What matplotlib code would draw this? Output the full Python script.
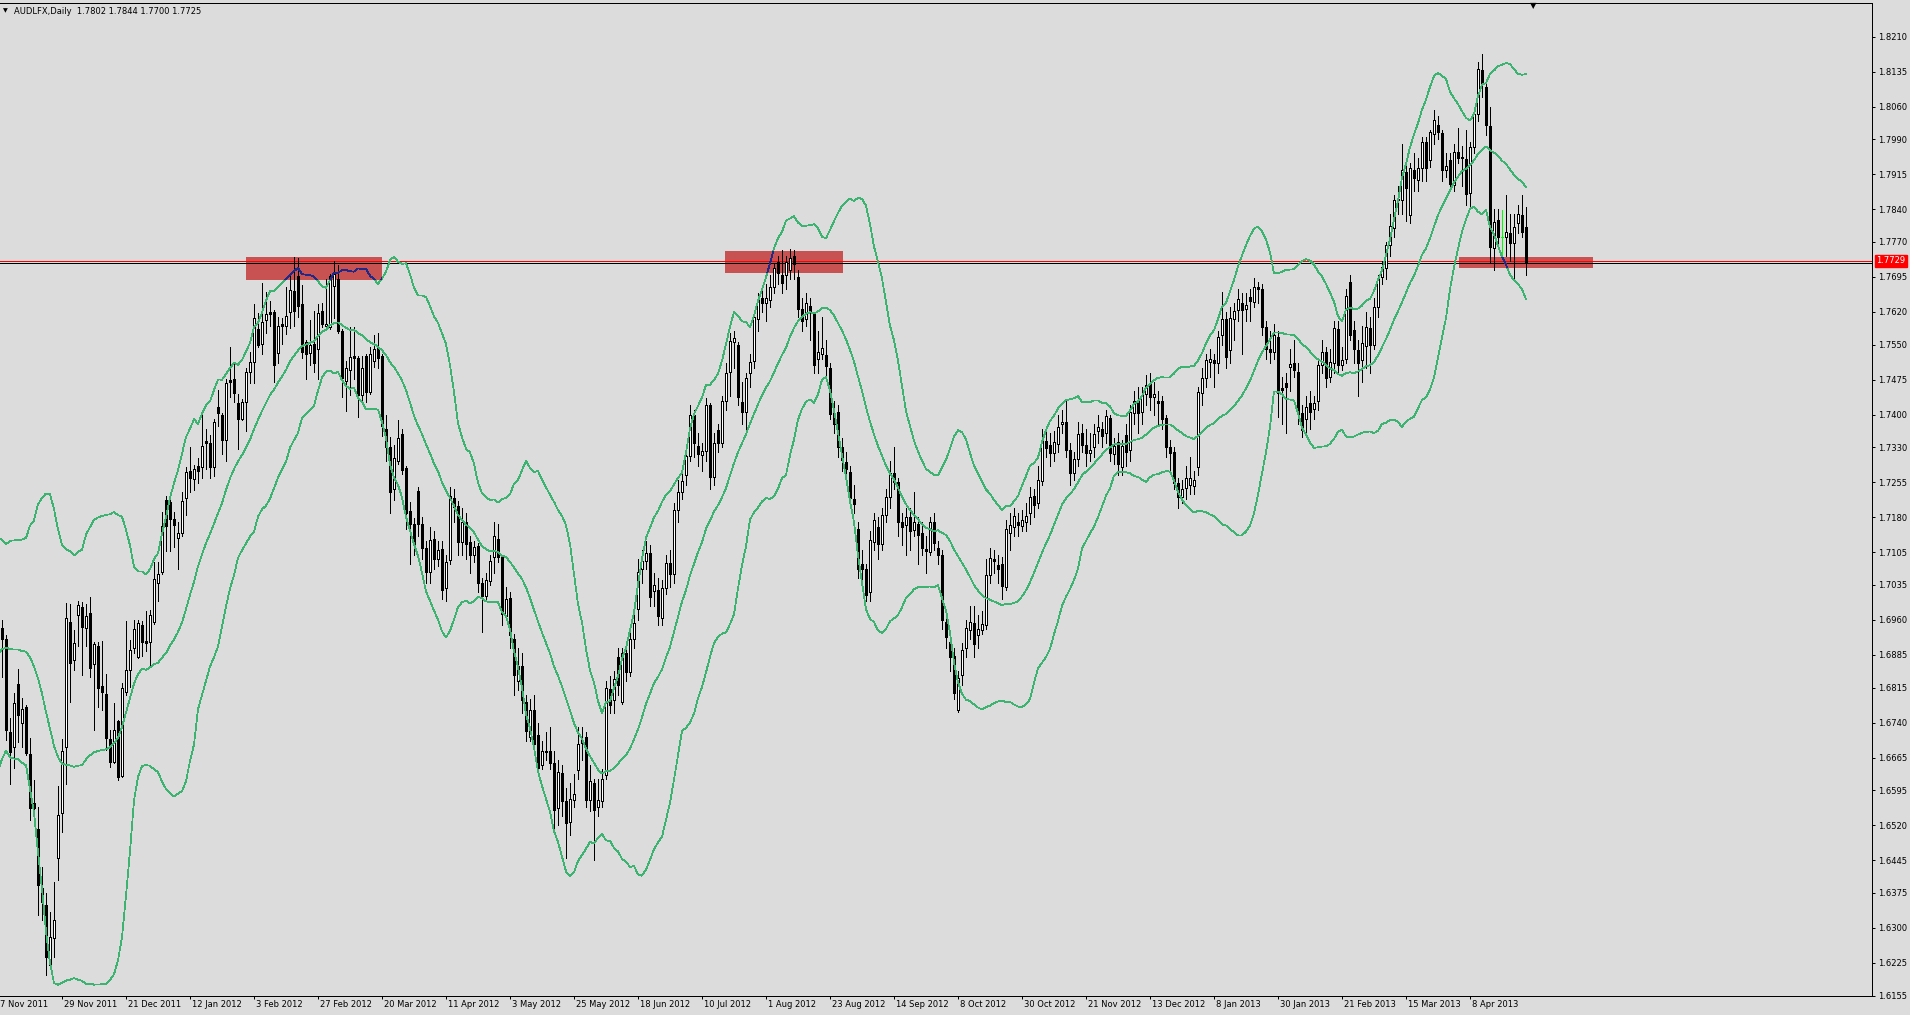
import matplotlib
matplotlib.use("Agg")
import matplotlib.pyplot as plt
import matplotlib.patches as patches
import matplotlib.transforms as mtransforms
import numpy as np
import pandas as pd

# ---- data (daily bars from 7 Nov 2011 to 26 Apr 2013) ----
header = "AUDLFX,Daily  1.7802 1.7844 1.7700 1.7725"

# closes of the 19 days before the first visible bar (only feed the bands)
prior_closes = [1.6700, 1.6650, 1.6740, 1.6800, 1.6760, 1.6830, 1.6700, 1.6800, 1.6950, 1.6900,
                1.7000, 1.7050, 1.6980, 1.7060, 1.7020, 1.6960, 1.7010, 1.6900, 1.6960]

opens = [
    1.6900, 1.6942, 1.6920, 1.6720, 1.6688, 1.6822, 1.6738, 1.6773, 1.6673, 1.6567,
    1.6513, 1.6385, 1.6349, 1.6221, 1.6278, 1.6449, 1.6546, 1.6688, 1.6956, 1.6874,
    1.6970, 1.6988, 1.6942, 1.6975, 1.6865, 1.6903, 1.6818, 1.6801, 1.6705, 1.6656,
    1.6744, 1.6626, 1.6806, 1.6853, 1.6899, 1.6881, 1.6948, 1.6915, 1.6913, 1.6955,
    1.7039, 1.7062, 1.7217, 1.7212, 1.7176, 1.7135, 1.7147, 1.7222, 1.7280, 1.7261,
    1.7290, 1.7288, 1.7344, 1.7338, 1.7288, 1.7416, 1.7399, 1.7345, 1.7474, 1.7476,
    1.7424, 1.7391, 1.7426, 1.7492, 1.7512, 1.7584, 1.7552, 1.7602, 1.7619, 1.7619,
    1.7531, 1.7593, 1.7590, 1.7619, 1.7665, 1.7697, 1.7636, 1.7556, 1.7531, 1.7552,
    1.7541, 1.7621, 1.7590, 1.7587, 1.7675, 1.7690, 1.7579, 1.7472, 1.7495, 1.7525,
    1.7522, 1.7441, 1.7525, 1.7449, 1.7514, 1.7544, 1.7525, 1.7368, 1.7330, 1.7241,
    1.7301, 1.7358, 1.7285, 1.7194, 1.7166, 1.7237, 1.7166, 1.7114, 1.7063, 1.7134,
    1.7090, 1.7112, 1.7029, 1.7088, 1.7221, 1.7203, 1.7126, 1.7170, 1.7126, 1.7100,
    1.7118, 1.7039, 1.7011, 1.7043, 1.7094, 1.7134, 1.7094, 1.6968, 1.7007, 1.6920,
    1.6829, 1.6862, 1.6785, 1.6710, 1.6767, 1.6714, 1.6648, 1.6677, 1.6678, 1.6654,
    1.6556, 1.6632, 1.6571, 1.6528, 1.6575, 1.6639, 1.6696, 1.6710, 1.6574, 1.6611,
    1.6559, 1.6571, 1.6627, 1.6811, 1.6789, 1.6880, 1.6785, 1.6888, 1.6849, 1.6920,
    1.6983, 1.7068, 1.7086, 1.7104, 1.7021, 1.7025, 1.6965, 1.7028, 1.7082, 1.7059,
    1.7195, 1.7235, 1.7271, 1.7312, 1.7400, 1.7332, 1.7314, 1.7321, 1.7420, 1.7267,
    1.7366, 1.7339, 1.7429, 1.7492, 1.7555, 1.7548, 1.7427, 1.7406, 1.7488, 1.7515,
    1.7605, 1.7650, 1.7638, 1.7645, 1.7674, 1.7727, 1.7700, 1.7700, 1.7710, 1.7740,
    1.7695, 1.7627, 1.7605, 1.7632, 1.7617, 1.7519, 1.7530, 1.7527, 1.7499, 1.7404,
    1.7406, 1.7330, 1.7298, 1.7276, 1.7220, 1.7154, 1.7079, 1.7070, 1.7019, 1.7127,
    1.7160, 1.7123, 1.7185, 1.7224, 1.7275, 1.7256, 1.7170, 1.7163, 1.7181, 1.7153,
    1.7165, 1.7147, 1.7111, 1.7106, 1.7170, 1.7113, 1.7099, 1.6956, 1.6913, 1.6883,
    1.6767, 1.6842, 1.6899, 1.6938, 1.6953, 1.6928, 1.6938, 1.6949, 1.7056, 1.7090,
    1.7078, 1.7080, 1.7031, 1.7147, 1.7160, 1.7170, 1.7161, 1.7170, 1.7188, 1.7226,
    1.7211, 1.7258, 1.7344, 1.7335, 1.7317, 1.7337, 1.7380, 1.7385, 1.7324, 1.7274,
    1.7304, 1.7361, 1.7335, 1.7317, 1.7330, 1.7365, 1.7370, 1.7360, 1.7392, 1.7316,
    1.7342, 1.7287, 1.7356, 1.7325, 1.7404, 1.7428, 1.7406, 1.7444, 1.7468, 1.7437,
    1.7428, 1.7428, 1.7392, 1.7330, 1.7320, 1.7253, 1.7224, 1.7242, 1.7249, 1.7247,
    1.7288, 1.7446, 1.7478, 1.7513, 1.7517, 1.7511, 1.7570, 1.7604, 1.7538, 1.7604,
    1.7623, 1.7638, 1.7627, 1.7651, 1.7642, 1.7673, 1.7668, 1.7587, 1.7540, 1.7533,
    1.7567, 1.7456, 1.7467, 1.7502, 1.7511, 1.7492, 1.7403, 1.7390, 1.7425, 1.7412,
    1.7428, 1.7506, 1.7533, 1.7480, 1.7510, 1.7583, 1.7506, 1.7520, 1.7683, 1.7581,
    1.7538, 1.7517, 1.7547, 1.7585, 1.7549, 1.7631, 1.7694, 1.7713, 1.7763, 1.7799,
    1.7860, 1.7860, 1.7920, 1.7828, 1.7924, 1.7902, 1.7928, 1.7985, 1.7945, 1.8001,
    1.8020, 1.8003, 1.7925, 1.7945, 1.7892, 1.7963, 1.7952, 1.7947, 1.7874, 1.7974,
    1.8045, 1.8138, 1.8101, 1.8018, 1.7756, 1.7817, 1.7781, 1.7781, 1.7790, 1.7768,
    1.7810, 1.7828, 1.7802,
]

highs = [
    1.6985, 1.6960, 1.6928, 1.6749, 1.6803, 1.6854, 1.6792, 1.6778, 1.6706, 1.6617,
    1.6560, 1.6431, 1.6374, 1.6335, 1.6399, 1.6603, 1.6704, 1.6997, 1.6995, 1.6938,
    1.7001, 1.6999, 1.6995, 1.7010, 1.6913, 1.6913, 1.6915, 1.6843, 1.6724, 1.6781,
    1.6745, 1.6824, 1.6958, 1.6917, 1.6960, 1.6960, 1.6958, 1.6978, 1.6982, 1.7085,
    1.7085, 1.7192, 1.7225, 1.7225, 1.7192, 1.7169, 1.7235, 1.7288, 1.7330, 1.7292,
    1.7307, 1.7403, 1.7368, 1.7357, 1.7391, 1.7453, 1.7403, 1.7476, 1.7544, 1.7510,
    1.7445, 1.7433, 1.7499, 1.7533, 1.7636, 1.7617, 1.7682, 1.7663, 1.7644, 1.7625,
    1.7609, 1.7606, 1.7674, 1.7701, 1.7737, 1.7736, 1.7678, 1.7560, 1.7602, 1.7621,
    1.7636, 1.7640, 1.7690, 1.7701, 1.7730, 1.7720, 1.7583, 1.7514, 1.7587, 1.7587,
    1.7525, 1.7525, 1.7529, 1.7544, 1.7571, 1.7575, 1.7529, 1.7400, 1.7352, 1.7334,
    1.7388, 1.7368, 1.7289, 1.7213, 1.7178, 1.7245, 1.7180, 1.7130, 1.7160, 1.7150,
    1.7130, 1.7130, 1.7100, 1.7245, 1.7240, 1.7215, 1.7200, 1.7190, 1.7140, 1.7130,
    1.7125, 1.7050, 1.7060, 1.7100, 1.7170, 1.7165, 1.7100, 1.7030, 1.7020, 1.6930,
    1.6900, 1.6890, 1.6800, 1.6790, 1.6800, 1.6740, 1.6700, 1.6720, 1.6730, 1.6680,
    1.6660, 1.6650, 1.6600, 1.6610, 1.6630, 1.6730, 1.6730, 1.6720, 1.6650, 1.6620,
    1.6620, 1.6640, 1.6830, 1.6840, 1.6850, 1.6900, 1.6900, 1.6910, 1.6935, 1.6975,
    1.7090, 1.7110, 1.7130, 1.7120, 1.7060, 1.7050, 1.7045, 1.7100, 1.7110, 1.7210,
    1.7260, 1.7290, 1.7330, 1.7420, 1.7410, 1.7360, 1.7340, 1.7435, 1.7425, 1.7360,
    1.7380, 1.7440, 1.7510, 1.7575, 1.7578, 1.7555, 1.7470, 1.7490, 1.7530, 1.7625,
    1.7660, 1.7665, 1.7680, 1.7700, 1.7725, 1.7740, 1.7752, 1.7740, 1.7755, 1.7752,
    1.7710, 1.7650, 1.7660, 1.7650, 1.7620, 1.7580, 1.7610, 1.7560, 1.7510, 1.7430,
    1.7420, 1.7350, 1.7320, 1.7290, 1.7250, 1.7170, 1.7110, 1.7080, 1.7150, 1.7190,
    1.7180, 1.7200, 1.7240, 1.7300, 1.7331, 1.7265, 1.7190, 1.7200, 1.7200, 1.7235,
    1.7180, 1.7170, 1.7140, 1.7180, 1.7190, 1.7130, 1.7110, 1.6975, 1.6930, 1.6900,
    1.6850, 1.6910, 1.6960, 1.6990, 1.6990, 1.6970, 1.6980, 1.7090, 1.7113, 1.7110,
    1.7100, 1.7095, 1.7175, 1.7190, 1.7200, 1.7190, 1.7195, 1.7210, 1.7245, 1.7240,
    1.7290, 1.7370, 1.7370, 1.7360, 1.7365, 1.7400, 1.7410, 1.7430, 1.7340, 1.7320,
    1.7385, 1.7380, 1.7370, 1.7360, 1.7380, 1.7400, 1.7385, 1.7410, 1.7400, 1.7350,
    1.7360, 1.7345, 1.7380, 1.7420, 1.7450, 1.7460, 1.7460, 1.7485, 1.7490, 1.7470,
    1.7450, 1.7440, 1.7400, 1.7345, 1.7330, 1.7265, 1.7260, 1.7290, 1.7310, 1.7280,
    1.7460, 1.7500, 1.7530, 1.7540, 1.7530, 1.7580, 1.7663, 1.7620, 1.7630, 1.7640,
    1.7670, 1.7660, 1.7660, 1.7670, 1.7692, 1.7685, 1.7680, 1.7600, 1.7580, 1.7595,
    1.7580, 1.7480, 1.7490, 1.7540, 1.7560, 1.7510, 1.7420, 1.7440, 1.7450, 1.7440,
    1.7520, 1.7560, 1.7545, 1.7540, 1.7600, 1.7600, 1.7545, 1.7670, 1.7700, 1.7600,
    1.7560, 1.7590, 1.7620, 1.7610, 1.7650, 1.7700, 1.7730, 1.7770, 1.7830, 1.7870,
    1.7890, 1.7980, 1.7935, 1.7940, 1.7960, 1.7950, 1.7995, 1.7995, 1.8010, 1.8053,
    1.8040, 1.8010, 1.7960, 1.7960, 1.7980, 1.8015, 1.7975, 1.8010, 1.7985, 1.8060,
    1.8155, 1.8173, 1.8115, 1.8060, 1.7840, 1.7840, 1.7838, 1.7870, 1.7830, 1.7830,
    1.7850, 1.7870, 1.7844,
]

lows = [
    1.6880, 1.6838, 1.6703, 1.6608, 1.6642, 1.6699, 1.6688, 1.6670, 1.6531, 1.6520,
    1.6328, 1.6317, 1.6199, 1.6213, 1.6238, 1.6403, 1.6505, 1.6608, 1.6785, 1.6853,
    1.6903, 1.6842, 1.6903, 1.6838, 1.6724, 1.6774, 1.6767, 1.6681, 1.6645, 1.6653,
    1.6617, 1.6624, 1.6799, 1.6817, 1.6888, 1.6878, 1.6882, 1.6894, 1.6863, 1.6951,
    1.7001, 1.7059, 1.7108, 1.7108, 1.7116, 1.7070, 1.7139, 1.7185, 1.7235, 1.7238,
    1.7254, 1.7265, 1.7284, 1.7265, 1.7269, 1.7376, 1.7315, 1.7300, 1.7437, 1.7426,
    1.7326, 1.7388, 1.7365, 1.7468, 1.7468, 1.7544, 1.7529, 1.7575, 1.7590, 1.7469,
    1.7510, 1.7552, 1.7573, 1.7586, 1.7590, 1.7609, 1.7521, 1.7476, 1.7506, 1.7491,
    1.7476, 1.7587, 1.7583, 1.7583, 1.7606, 1.7575, 1.7437, 1.7407, 1.7441, 1.7476,
    1.7395, 1.7430, 1.7426, 1.7445, 1.7502, 1.7499, 1.7353, 1.7300, 1.7190, 1.7217,
    1.7293, 1.7273, 1.7154, 1.7079, 1.7098, 1.7140, 1.7090, 1.7040, 1.7040, 1.7070,
    1.7075, 1.7005, 1.7000, 1.7080, 1.7170, 1.7100, 1.7100, 1.7090, 1.7060, 1.7085,
    1.7020, 1.6935, 1.7000, 1.7035, 1.7060, 1.7085, 1.6950, 1.6960, 1.6900, 1.6800,
    1.6810, 1.6760, 1.6700, 1.6700, 1.6680, 1.6630, 1.6640, 1.6660, 1.6640, 1.6510,
    1.6520, 1.6540, 1.6450, 1.6500, 1.6560, 1.6620, 1.6660, 1.6560, 1.6550, 1.6445,
    1.6540, 1.6560, 1.6620, 1.6760, 1.6760, 1.6800, 1.6780, 1.6830, 1.6840, 1.6900,
    1.6960, 1.7040, 1.7070, 1.6990, 1.6990, 1.6950, 1.6950, 1.7015, 1.7030, 1.7040,
    1.7170, 1.7220, 1.7250, 1.7300, 1.7310, 1.7290, 1.7280, 1.7300, 1.7240, 1.7250,
    1.7320, 1.7330, 1.7410, 1.7440, 1.7500, 1.7420, 1.7380, 1.7360, 1.7460, 1.7500,
    1.7580, 1.7620, 1.7600, 1.7630, 1.7660, 1.7680, 1.7660, 1.7670, 1.7690, 1.7690,
    1.7610, 1.7580, 1.7590, 1.7560, 1.7490, 1.7490, 1.7520, 1.7480, 1.7390, 1.7360,
    1.7310, 1.7280, 1.7270, 1.7210, 1.7190, 1.7050, 1.7040, 1.7000, 1.7000, 1.7110,
    1.7090, 1.7110, 1.7170, 1.7200, 1.7240, 1.7140, 1.7120, 1.7100, 1.7110, 1.7140,
    1.7080, 1.7100, 1.7060, 1.7100, 1.7110, 1.7080, 1.6940, 1.6900, 1.6850, 1.6790,
    1.6763, 1.6820, 1.6880, 1.6920, 1.6880, 1.6900, 1.6930, 1.6940, 1.7040, 1.7060,
    1.7040, 1.7005, 1.7025, 1.7110, 1.7140, 1.7140, 1.7150, 1.7150, 1.7165, 1.7180,
    1.7200, 1.7250, 1.7310, 1.7290, 1.7300, 1.7320, 1.7360, 1.7310, 1.7250, 1.7260,
    1.7290, 1.7320, 1.7290, 1.7300, 1.7310, 1.7340, 1.7330, 1.7340, 1.7300, 1.7295,
    1.7270, 1.7270, 1.7290, 1.7300, 1.7380, 1.7360, 1.7380, 1.7420, 1.7410, 1.7400,
    1.7380, 1.7370, 1.7310, 1.7275, 1.7240, 1.7200, 1.7210, 1.7220, 1.7230, 1.7230,
    1.7270, 1.7420, 1.7460, 1.7480, 1.7460, 1.7490, 1.7550, 1.7500, 1.7510, 1.7560,
    1.7600, 1.7530, 1.7600, 1.7600, 1.7630, 1.7640, 1.7570, 1.7520, 1.7510, 1.7520,
    1.7395, 1.7380, 1.7361, 1.7450, 1.7480, 1.7380, 1.7352, 1.7360, 1.7370, 1.7390,
    1.7410, 1.7490, 1.7460, 1.7470, 1.7490, 1.7490, 1.7495, 1.7510, 1.7560, 1.7510,
    1.7440, 1.7470, 1.7500, 1.7490, 1.7540, 1.7610, 1.7680, 1.7690, 1.7740, 1.7780,
    1.7830, 1.7830, 1.7815, 1.7810, 1.7880, 1.7880, 1.7900, 1.7900, 1.7930, 1.7980,
    1.7990, 1.7900, 1.7910, 1.7880, 1.7880, 1.7940, 1.7890, 1.7850, 1.7845, 1.7960,
    1.8030, 1.8080, 1.8000, 1.7724, 1.7710, 1.7760, 1.7738, 1.7740, 1.7730, 1.7688,
    1.7790, 1.7780, 1.7700,
]

closes = [
    1.6950, 1.6920, 1.6724, 1.6676, 1.6781, 1.6756, 1.6770, 1.6674, 1.6556, 1.6556,
    1.6392, 1.6356, 1.6238, 1.6281, 1.6317, 1.6542, 1.6678, 1.6963, 1.6867, 1.6910,
    1.6992, 1.6945, 1.6968, 1.6856, 1.6908, 1.6815, 1.6806, 1.6706, 1.6656, 1.6724,
    1.6624, 1.6815, 1.6853, 1.6895, 1.6940, 1.6953, 1.6913, 1.6911, 1.6971, 1.7047,
    1.7059, 1.7162, 1.7162, 1.7177, 1.7163, 1.7147, 1.7214, 1.7277, 1.7265, 1.7284,
    1.7280, 1.7332, 1.7338, 1.7288, 1.7384, 1.7403, 1.7345, 1.7468, 1.7470, 1.7446,
    1.7391, 1.7426, 1.7491, 1.7512, 1.7607, 1.7548, 1.7599, 1.7615, 1.7615, 1.7506,
    1.7590, 1.7589, 1.7612, 1.7667, 1.7621, 1.7632, 1.7533, 1.7529, 1.7548, 1.7510,
    1.7617, 1.7594, 1.7595, 1.7697, 1.7701, 1.7579, 1.7479, 1.7499, 1.7523, 1.7522,
    1.7441, 1.7499, 1.7449, 1.7529, 1.7541, 1.7522, 1.7375, 1.7330, 1.7235, 1.7307,
    1.7350, 1.7281, 1.7190, 1.7166, 1.7122, 1.7166, 1.7114, 1.7063, 1.7132, 1.7090,
    1.7110, 1.7025, 1.7083, 1.7225, 1.7202, 1.7126, 1.7170, 1.7122, 1.7098, 1.7116,
    1.7039, 1.7011, 1.7045, 1.7087, 1.7140, 1.7094, 1.6972, 1.7005, 1.6928, 1.6841,
    1.6861, 1.6789, 1.6722, 1.6767, 1.6694, 1.6643, 1.6678, 1.6680, 1.6654, 1.6552,
    1.6635, 1.6571, 1.6524, 1.6577, 1.6587, 1.6694, 1.6702, 1.6575, 1.6615, 1.6552,
    1.6575, 1.6619, 1.6815, 1.6777, 1.6833, 1.6821, 1.6888, 1.6849, 1.6920, 1.6953,
    1.7063, 1.7086, 1.7104, 1.7010, 1.7034, 1.6969, 1.7028, 1.7082, 1.7059, 1.7196,
    1.7235, 1.7258, 1.7312, 1.7400, 1.7339, 1.7316, 1.7321, 1.7420, 1.7267, 1.7339,
    1.7339, 1.7429, 1.7488, 1.7557, 1.7564, 1.7438, 1.7406, 1.7479, 1.7512, 1.7610,
    1.7645, 1.7638, 1.7650, 1.7674, 1.7713, 1.7704, 1.7682, 1.7727, 1.7736, 1.7722,
    1.7626, 1.7600, 1.7638, 1.7619, 1.7506, 1.7535, 1.7542, 1.7503, 1.7402, 1.7379,
    1.7330, 1.7303, 1.7283, 1.7222, 1.7208, 1.7068, 1.7068, 1.7014, 1.7131, 1.7175,
    1.7122, 1.7185, 1.7224, 1.7274, 1.7256, 1.7170, 1.7160, 1.7180, 1.7151, 1.7170,
    1.7142, 1.7113, 1.7108, 1.7170, 1.7125, 1.7099, 1.6960, 1.6923, 1.6880, 1.6803,
    1.6835, 1.6895, 1.6942, 1.6956, 1.6908, 1.6940, 1.6951, 1.7056, 1.7092, 1.7087,
    1.7070, 1.7033, 1.7154, 1.7163, 1.7183, 1.7163, 1.7174, 1.7183, 1.7224, 1.7206,
    1.7260, 1.7344, 1.7328, 1.7317, 1.7342, 1.7374, 1.7385, 1.7324, 1.7274, 1.7304,
    1.7358, 1.7335, 1.7317, 1.7324, 1.7358, 1.7373, 1.7354, 1.7397, 1.7318, 1.7333,
    1.7295, 1.7333, 1.7320, 1.7406, 1.7430, 1.7404, 1.7442, 1.7463, 1.7438, 1.7445,
    1.7424, 1.7390, 1.7331, 1.7318, 1.7253, 1.7224, 1.7240, 1.7263, 1.7263, 1.7260,
    1.7449, 1.7478, 1.7517, 1.7518, 1.7510, 1.7567, 1.7604, 1.7524, 1.7606, 1.7622,
    1.7647, 1.7625, 1.7635, 1.7644, 1.7673, 1.7668, 1.7588, 1.7540, 1.7535, 1.7570,
    1.7447, 1.7453, 1.7460, 1.7508, 1.7495, 1.7401, 1.7367, 1.7417, 1.7406, 1.7424,
    1.7506, 1.7535, 1.7478, 1.7513, 1.7585, 1.7506, 1.7517, 1.7653, 1.7570, 1.7540,
    1.7510, 1.7553, 1.7588, 1.7549, 1.7631, 1.7692, 1.7717, 1.7763, 1.7803, 1.7860,
    1.7861, 1.7923, 1.7885, 1.7928, 1.7906, 1.7928, 1.7985, 1.7928, 1.8006, 1.8031,
    1.8006, 1.7924, 1.7933, 1.7894, 1.7963, 1.7949, 1.7949, 1.7873, 1.7973, 1.8045,
    1.8140, 1.8110, 1.8020, 1.7758, 1.7813, 1.7781, 1.7781, 1.7792, 1.7767, 1.7802,
    1.7830, 1.7792, 1.7725,
]

date_labels = ["7 Nov 2011", "29 Nov 2011", "21 Dec 2011", "12 Jan 2012", "3 Feb 2012",
               "27 Feb 2012", "20 Mar 2012", "11 Apr 2012", "3 May 2012", "25 May 2012",
               "18 Jun 2012", "10 Jul 2012", "1 Aug 2012", "23 Aug 2012", "14 Sep 2012",
               "8 Oct 2012", "30 Oct 2012", "21 Nov 2012", "13 Dec 2012", "8 Jan 2013",
               "30 Jan 2013", "21 Feb 2013", "15 Mar 2013", "8 Apr 2013"]
label_step = 16  # bars between time labels

price_ticks = [1.8210, 1.8135, 1.8060, 1.7990, 1.7915, 1.7840, 1.7770, 1.7695, 1.7620,
               1.7550, 1.7475, 1.7400, 1.7330, 1.7255, 1.7180, 1.7105, 1.7035, 1.6960,
               1.6885, 1.6815, 1.6740, 1.6665, 1.6595, 1.6520, 1.6445, 1.6375, 1.6300,
               1.6225, 1.6155]

# resistance zones: (first bar, last bar, low price, high price)
zones = [(62.0, 96.1, 1.7689, 1.7738),
         (181.75, 211.25, 1.7703, 1.7750),
         (365.25, 398.75, 1.7713, 1.7738)]
level_black = 1.7725
level_red = 1.7729

bb_period = 20
bb_dev = 2.0

# ---- figure ----
BG = "#dcdcdc"
fig = plt.figure(figsize=(19.10, 10.15), dpi=100, facecolor=BG)
ax = fig.add_axes([0, 19 / 1015, 1872 / 1910, 993 / 1015])
ax.set_facecolor(BG)
ax.set_xlim(0.5, 468.5)
ax.set_ylim(1.61541, 1.82818)

o = np.array(opens)
h = np.array(highs)
l = np.array(lows)
c = np.array(closes)
x = np.arange(len(c))
lw = 0.72

# zones (background)
zone_rects = []
for x0, x1, y0, y1 in zones:
    r = patches.Rectangle((x0, y0), x1 - x0, y1 - y0, facecolor="#c85252",
                          edgecolor="none", zorder=1)
    ax.add_patch(r)
    zone_rects.append(r)

ax.axhline(level_red, color="#ff0000", lw=lw, zorder=2)
ax.axhline(level_black, color="black", lw=lw, zorder=2)

# candles
green = np.zeros(len(c), dtype=bool)
green[376] = True
wick_colors = np.where(green, "#00ff00", "black")
ax.vlines(x, l, h, colors=wick_colors, lw=lw, zorder=3, antialiased=False)

bull = (c >= o) & ~green
bear = (c < o) & ~green
body = np.maximum(np.abs(c - o), 0.00002)
bottom = np.minimum(o, c)
ax.bar(x[bull], body[bull], bottom=bottom[bull], width=0.55, facecolor="white",
       edgecolor="black", lw=lw, zorder=4, antialiased=False)
ax.bar(x[bear], body[bear], bottom=bottom[bear], width=0.55, facecolor="black",
       edgecolor="black", lw=lw, zorder=4, antialiased=False)
ax.bar(x[green], body[green], bottom=bottom[green], width=0.55, facecolor="#00ff00",
       edgecolor="#00ff00", lw=lw, zorder=4, antialiased=False)

# bollinger bands
s = pd.Series(prior_closes + closes)
mid = s.rolling(bb_period).mean().values[len(prior_closes):]
sd = s.rolling(bb_period).std(ddof=0).values[len(prior_closes):]
upper = mid + bb_dev * sd
lower = mid - bb_dev * sd
band_lw = 0.55
for band in (upper, mid, lower):
    ax.plot(x, band, color="#3cb371", lw=band_lw, zorder=5, antialiased=False)
    for r in zone_rects:
        ln, = ax.plot(x, band, color="#1e2a8a", lw=band_lw, zorder=5.5, antialiased=False)
        ln.set_clip_path(r)

# axes frame
ax.spines["left"].set_visible(False)
for side in ("top", "right", "bottom"):
    ax.spines[side].set_color("black")
    ax.spines[side].set_linewidth(lw)

ax.yaxis.tick_right()
ax.set_yticks(price_ticks)
ax.set_yticklabels([f"{p:.4f}" for p in price_ticks])
ax.tick_params(axis="y", direction="out", length=2.5, width=lw, pad=2, labelsize=6,
               colors="black")

tick_pos = [i * label_step for i in range(len(date_labels))]
ax.set_xticks(tick_pos[1:])
ax.set_xticklabels([])
ax.tick_params(axis="x", direction="out", length=2.5, width=lw)
shift = mtransforms.ScaledTranslation(2 / 100, 0, fig.dpi_scale_trans)
xt = mtransforms.blended_transform_factory(ax.transData, ax.transAxes) + shift
for pos, lab in zip(tick_pos, date_labels):
    ax.text(pos, -0.004, lab, transform=xt, ha="left", va="top", fontsize=6,
            clip_on=False)

# price marker on the scale
ax.annotate(f"{level_red:.4f}", xy=(1.0, level_red), xycoords=("axes fraction", "data"),
            xytext=(3, 0), textcoords="offset points", ha="left", va="center",
            fontsize=6, color="white",
            bbox=dict(boxstyle="square,pad=0.2", fc="#ff0000", ec="#ff0000"))

fig.text(5 / 1910, 1 - 11 / 1015, "\u25bc", fontsize=4.5, ha="center", va="center")
fig.text(14 / 1910, 1 - 11 / 1015, header, fontsize=6, ha="left", va="center")
fig.text(1533 / 1910, 1 - 6 / 1015, "\u25bc", fontsize=6, ha="center", va="center")

fig.savefig("out.png", dpi=100, facecolor=BG)
